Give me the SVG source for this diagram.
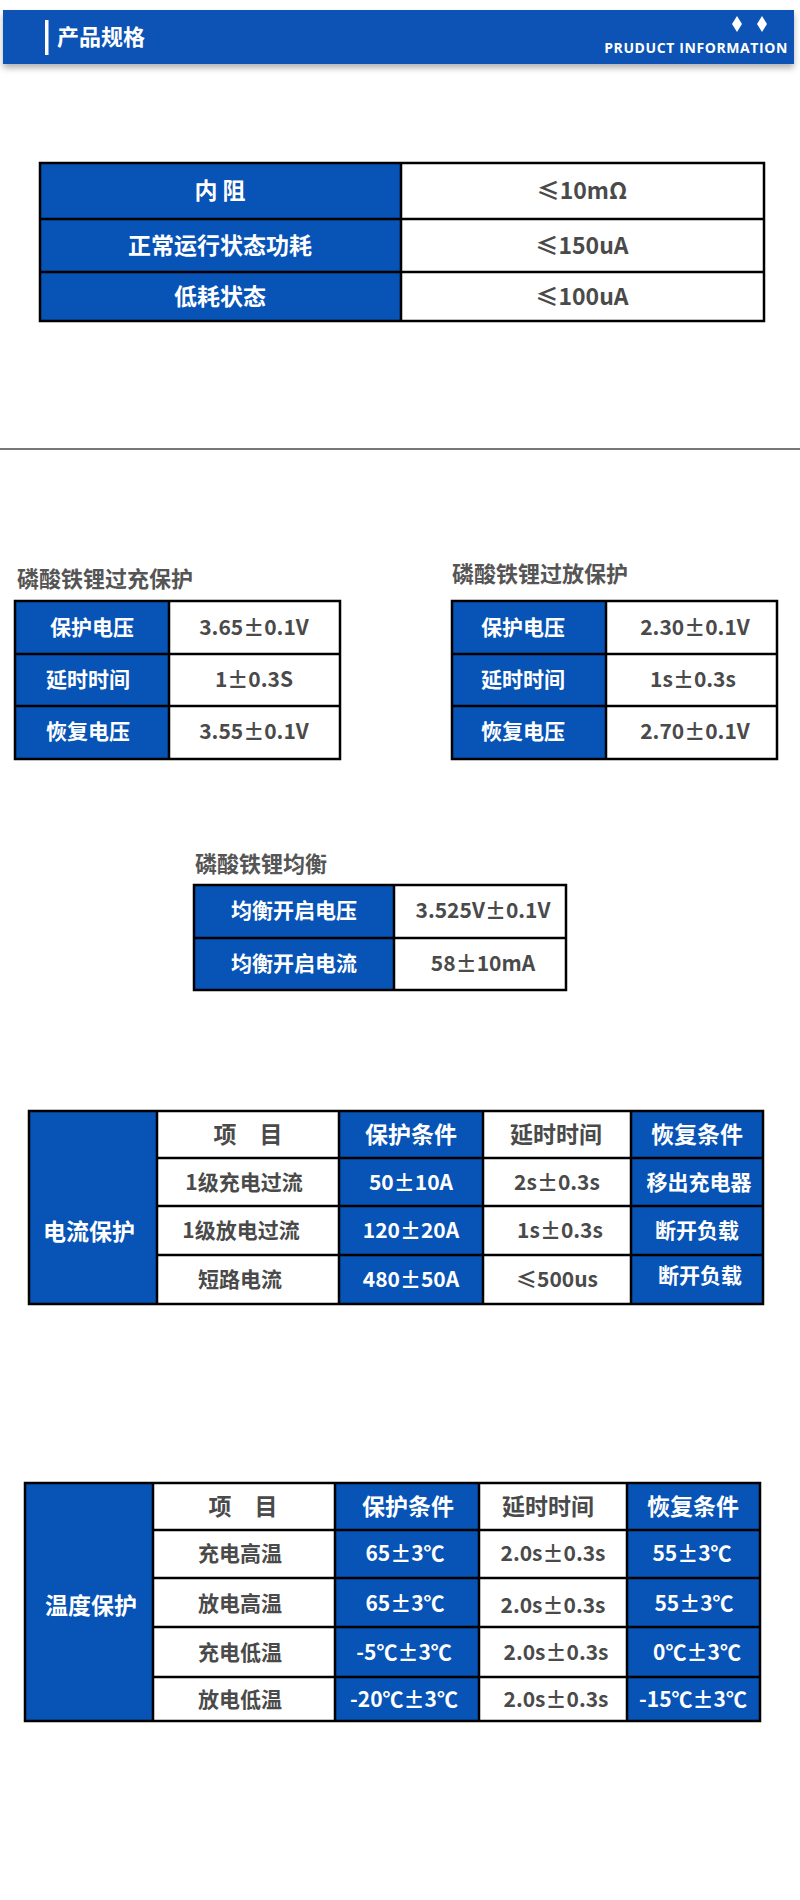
<svg xmlns="http://www.w3.org/2000/svg" width="800" height="1900" viewBox="0 0 800 1900">
<style>
.b{fill:#0753b6}
.ln{stroke:#000;stroke-width:2.5;fill:none}
text{font-family:"Noto Sans CJK SC","Noto Sans",sans-serif;font-weight:bold;text-anchor:middle}
.tw{fill:#fff;font-size:21px}
.tg{fill:#4a4a4a;font-size:21px}
.tt{fill:#555;font-size:22px;text-anchor:start}
.hw{fill:#fff;font-size:23px}
.hg{fill:#4a4a4a;font-size:23px}
.big{font-size:23px}
</style>
<defs><filter id="sh" x="-5%" y="-20%" width="110%" height="160%"><feDropShadow dx="0" dy="4" stdDeviation="3" flood-color="#000" flood-opacity="0.3"/></filter></defs>
<rect width="800" height="1900" fill="#fff"/>
<g id="header">
<rect x="3" y="10" width="791" height="54" class="b" filter="url(#sh)"/>
<rect x="45" y="20" width="3.5" height="35" fill="#fff"/>
<text x="57" y="45" style="fill:#fff;font-size:22px;text-anchor:start">产品规格</text>
<path d="M737 16 L742 24 L737 32 L732 24Z M762 16 L767 24 L762 32 L757 24Z" fill="#fff"/>
<text x="788" y="53" style="fill:#fff;font-size:14px;text-anchor:end;font-family:'Open Sans','DejaVu Sans',sans-serif;letter-spacing:0.6px">PRUDUCT INFORMATION</text>
</g>
<g id="table-spec">
<rect x="40" y="163" width="361" height="158" class="b"/>
<path class="ln" d="M40 163H764V321H40Z M40 219H764 M40 272H764 M401 163V321"/>
<text class="tw big" x="220" y="199">内 阻</text><text class="tg big" x="582" y="199">≤10mΩ</text>
<text class="tw big" x="220" y="254">正常运行状态功耗</text><text class="tg big" x="582" y="254">≤150uA</text>
<text class="tw big" x="220" y="305">低耗状态</text><text class="tg big" x="582" y="305">≤100uA</text>
</g>
<line x1="0" y1="449" x2="800" y2="449" stroke="#777" stroke-width="2"/>
<g id="table-charge">
<text class="tt" x="17" y="587">磷酸铁锂过充保护</text>
<rect x="15" y="601" width="154" height="158" class="b"/>
<path class="ln" d="M15 601H340V759H15Z M15 654H340 M15 706H340 M169 601V759"/>
<text class="tw" x="92" y="635">保护电压</text><text class="tg" x="254" y="635">3.65±0.1V</text>
<text class="tw" x="88" y="687">延时时间</text><text class="tg" x="254" y="687">1±0.3S</text>
<text class="tw" x="88" y="739">恢复电压</text><text class="tg" x="254" y="739">3.55±0.1V</text>
</g>
<g id="table-discharge">
<text class="tt" x="452" y="582">磷酸铁锂过放保护</text>
<rect x="452" y="601" width="154" height="158" class="b"/>
<path class="ln" d="M452 601H777V759H452Z M452 654H777 M452 706H777 M606 601V759"/>
<text class="tw" x="523" y="635">保护电压</text><text class="tg" x="695" y="635">2.30±0.1V</text>
<text class="tw" x="523" y="687">延时时间</text><text class="tg" x="693" y="687">1s±0.3s</text>
<text class="tw" x="523" y="739">恢复电压</text><text class="tg" x="695" y="739">2.70±0.1V</text>
</g>
<g id="table-balance">
<text class="tt" x="195" y="872">磷酸铁锂均衡</text>
<rect x="194" y="885" width="200" height="105" class="b"/>
<path class="ln" d="M194 885H566V990H194Z M194 938H566 M394 885V990"/>
<text class="tw" x="294" y="918">均衡开启电压</text><text class="tg" x="483" y="918">3.525V±0.1V</text>
<text class="tw" x="294" y="971">均衡开启电流</text><text class="tg" x="483" y="971">58±10mA</text>
</g>
<g id="table-current">
<rect x="29" y="1111" width="128" height="193" class="b"/>
<rect x="339" y="1111" width="144" height="193" class="b"/>
<rect x="631" y="1111" width="132" height="193" class="b"/>
<path class="ln" d="M29 1111H763V1304H29Z M157 1158H763 M157 1206H763 M157 1255H763 M157 1111V1304 M339 1111V1304 M483 1111V1304 M631 1111V1304"/>
<text class="hw" x="89" y="1240">电流保护</text>
<text class="hg" x="248" y="1143">项　目</text><text class="hw" x="411" y="1143">保护条件</text><text class="hg" x="556" y="1143">延时时间</text><text class="hw" x="697" y="1143">恢复条件</text>
<text class="tg" x="244" y="1190">1级充电过流</text><text class="tw" x="411" y="1190">50±10A</text><text class="tg" x="557" y="1190">2s±0.3s</text><text class="tw" x="699" y="1190">移出充电器</text>
<text class="tg" x="241" y="1238">1级放电过流</text><text class="tw" x="411" y="1238">120±20A</text><text class="tg" x="560" y="1238">1s±0.3s</text><text class="tw" x="697" y="1238">断开负载</text>
<text class="tg" x="240" y="1287">短路电流</text><text class="tw" x="411" y="1287">480±50A</text><text class="tg" x="557" y="1287">≤500us</text><text class="tw" x="700" y="1283">断开负载</text>
</g>
<g id="table-temp">
<rect x="25" y="1483" width="128" height="238" class="b"/>
<rect x="335" y="1483" width="144" height="238" class="b"/>
<rect x="627" y="1483" width="133" height="238" class="b"/>
<path class="ln" d="M25 1483H760V1721H25Z M153 1530H760 M153 1578H760 M153 1627H760 M153 1677H760 M153 1483V1721 M335 1483V1721 M479 1483V1721 M627 1483V1721"/>
<text class="hw" x="91" y="1614">温度保护</text>
<text class="hg" x="243" y="1515">项　目</text><text class="hw" x="408" y="1515">保护条件</text><text class="hg" x="548" y="1515">延时时间</text><text class="hw" x="693" y="1515">恢复条件</text>
<text class="tg" x="240" y="1561">充电高温</text><text class="tw" x="405" y="1561">65±3℃</text><text class="tg" x="553" y="1561">2.0s±0.3s</text><text class="tw" x="692" y="1561">55±3℃</text>
<text class="tg" x="240" y="1611">放电高温</text><text class="tw" x="405" y="1611">65±3℃</text><text class="tg" x="553" y="1613">2.0s±0.3s</text><text class="tw" x="694" y="1611">55±3℃</text>
<text class="tg" x="240" y="1660">充电低温</text><text class="tw" x="404" y="1660">-5℃±3℃</text><text class="tg" x="556" y="1660">2.0s±0.3s</text><text class="tw" x="697" y="1660">0℃±3℃</text>
<text class="tg" x="240" y="1707">放电低温</text><text class="tw" x="404" y="1707">-20℃±3℃</text><text class="tg" x="556" y="1707">2.0s±0.3s</text><text class="tw" x="693" y="1707">-15℃±3℃</text>
</g>
</svg>
